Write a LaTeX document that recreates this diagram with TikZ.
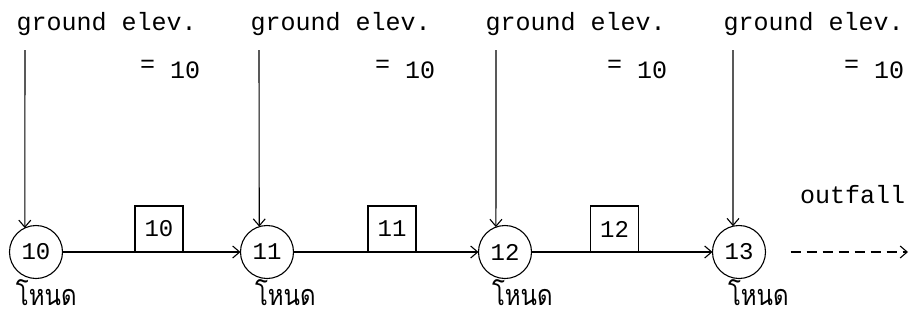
\documentclass[tikz,border=0pt]{standalone}
\usepackage{fontspec}
\newfontfamily\monof{Liberation Mono}
\newfontfamily\thaifont[Script=Thai]{Loma}
\usetikzlibrary{arrows.meta}
\newcommand{\thaitxt}[1]{\raisebox{0pt}[\height][0pt]{\scalebox{1}[1.2]{#1}}}
\begin{document}
\begin{tikzpicture}[x=1pt,y=-1pt,
  every node/.style={inner sep=0pt,outer sep=0pt},
  mono/.style={font=\monof\fontsize{25}{25}\selectfont},
  lbl/.style={mono,anchor=base west},
  thai/.style={font=\thaifont\fontsize{24}{24}\selectfont,anchor=base west},
  nodecirc/.style={draw,circle,minimum size=53pt,line width=1.1pt,font=\monof\fontsize{24}{24}\selectfont},
  linkbox/.style={draw,rectangle,minimum width=48pt,minimum height=46pt,line width=1.1pt,anchor=south,fill=white,font=\monof\fontsize{24}{24}\selectfont},
  conn/.style={line width=1.1pt,-{Straight Barb[length=7pt,width=12pt,line width=1.1pt]}},
]
\useasboundingbox (0,0) rectangle (913,322);
% ground elevation labels
\node[lbl] (g1) at (16.5,30) {ground elev.};
\node[lbl] (g2) at (250.5,30) {ground elev.};
\node[lbl] (g3) at (485.5,30) {ground elev.};
\node[lbl] (g4) at (723.5,30) {ground elev.};
\node[lbl] (e1) at (140,78) {\raisebox{6pt}{=} 10};
\node[lbl] (e2) at (375,78) {\raisebox{6pt}{=} 10};
\node[lbl] (e3) at (607,78) {\raisebox{6pt}{=} 10};
\node[lbl] (e4) at (844,78) {\raisebox{6pt}{=} 10};
% nodes
\node[nodecirc] (c1) at (36,252) {10};
\node[nodecirc] (c2) at (267,252) {11};
\node[nodecirc] (c3) at (505,252) {12};
\node[nodecirc] (c4) at (739,252) {13};
% top coordinates of inflow lines
\coordinate (t1) at (25,50);
\coordinate (t2) at (259,50);
\coordinate (t3) at (496,50);
\coordinate (t4) at (733,50);
\draw[conn] (t1) -- (c1.115);
\draw[conn] (t2) -- (c2.107);
\draw[conn] (t3) -- (c3.110);
\draw[conn] (t4) -- (c4.103);
% links
\draw[conn] (c1) -- (c2);
\draw[conn] (c2) -- (c3);
\draw[conn] (c3) -- (c4);
\node[linkbox] (b1) at (159,252) {10};
\node[linkbox] (b2) at (392,252) {11};
\node[linkbox] (b3) at (614.5,252) {12};
% outfall
\coordinate (o1) at (908,252);
\draw[line width=1.1pt,dash pattern=on 10pt off 6pt,-{Straight Barb[length=7pt,width=12pt,line width=1.1pt]}] ([xshift=25pt]c4.east) -- (o1);
\node[lbl] (of) at (800,203) {outfall};
% Thai labels
\node[thai] (n1) at (16,305) {\thaitxt{โหนด}};
\node[thai] (n2) at (255,305) {\thaitxt{โหนด}};
\node[thai] (n3) at (492,305) {\thaitxt{โหนด}};
\node[thai] (n4) at (728,305) {\thaitxt{โหนด}};
\end{tikzpicture}
\end{document}
